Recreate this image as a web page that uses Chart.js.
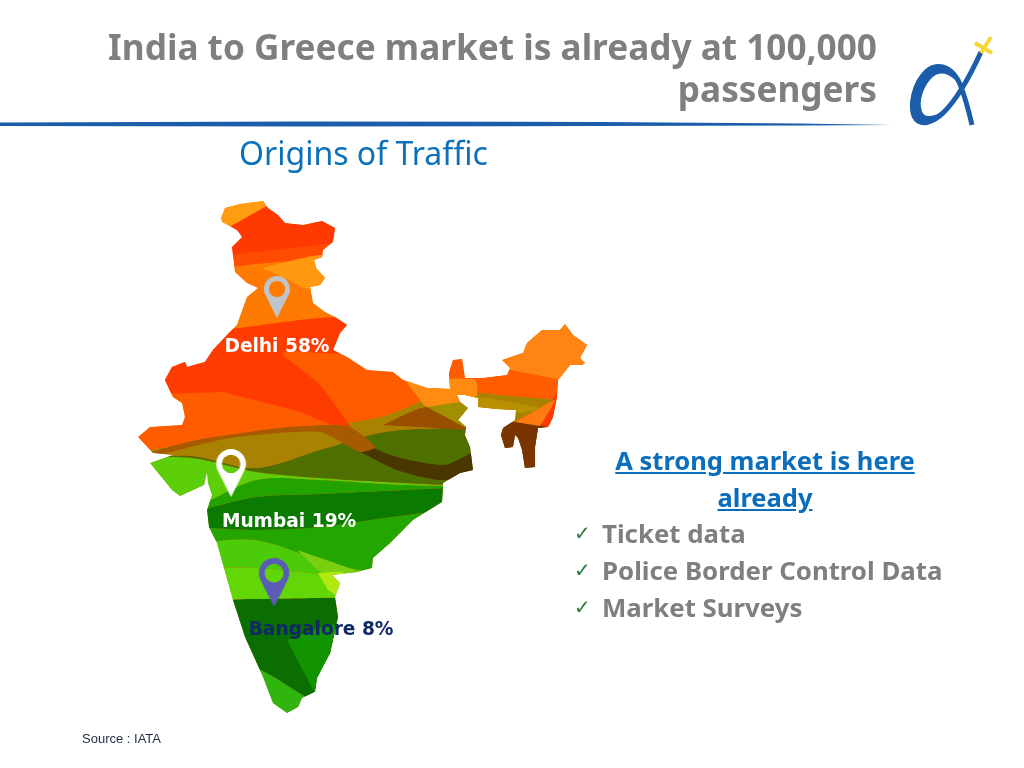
<!DOCTYPE html>
<html>
<head>
<meta charset="utf-8">
<title>Origins of Traffic</title>
<script src="https://cdn.jsdelivr.net/npm/chart.js@4/dist/chart.umd.min.js"></script>
<style>
    html, body { margin: 0; padding: 0; background: #fff; }
    #slide { position: relative; width: 1024px; height: 768px; overflow: hidden; }
    #mapChart { position: absolute; left: 0; top: 0; filter: blur(0.4px); }
    .txt { position: absolute; white-space: nowrap; }
    #title { right: 147px; top: 25px; text-align: right; font: bold 35.2px/42px "Noto Sans", sans-serif; color: #7f7f7f; }
    #subtitle { left: 239px; top: 132px; font: 32px/42px "Noto Sans", sans-serif; color: #0b72b9; }
    #headline { left: 600px; top: 442px; width: 330px; text-align: center; font: bold 25.5px/37px "Noto Sans", sans-serif; color: #0a6ebd; text-decoration: underline; white-space: normal; }
    .item { left: 602px; font: bold 25.8px/37px "Noto Sans", sans-serif; color: #7f7f7f; }
    .tick { left: 574px; font: 20px/37px "DejaVu Sans", sans-serif; color: #2e7d3a; }
    #source { left: 82px; top: 731px; font: 13px/16px "Liberation Sans", sans-serif; color: #1f2a44; }
</style>
</head>
<body>
<div id="slide">
    <canvas id="mapChart" width="1024" height="768"></canvas>

    <svg class="txt" style="left:0;top:0" width="1024" height="140">
        <!-- header rule -->
        <path d="M0 122.5 L300 121.5 L600 122 L800 123.5 L893 125 L800 125.5 L600 126 L300 126.5 L0 126 Z" fill="#1c5dab"/>
        <!-- logo -->
        <path d="M972 125 C968 108 964 92 958 80 C950 66 936 62 926 72 C914 84 910 104 914 116 C920 128 934 122 944 112 C958 98 970 76 981 52" fill="none" stroke="#1c5dab" stroke-width="5"/>
        <path d="M958 80 C950 66 936 62 926 72 C914 84 910 104 914 116 C920 128 934 122 944 112 C936 118 924 122 920 112 C916 100 922 84 932 75 C940 68 950 72 958 80 Z" fill="#1c5dab" stroke="#1c5dab" stroke-width="4"/>
        <path d="M981 53 L991 37 M975 43 L992 53" fill="none" stroke="#f7d43a" stroke-width="4"/>
    </svg>

    <div class="txt" id="title">India to Greece market is already at 100,000<br>passengers</div>
    <div class="txt" id="subtitle">Origins of Traffic</div>
    <div class="txt" id="headline">A strong market is here already</div>
    <div class="txt tick" style="top:515px">✓</div>
    <div class="txt item" style="top:515px">Ticket data</div>
    <div class="txt tick" style="top:552px">✓</div>
    <div class="txt item" style="top:552px">Police Border Control Data</div>
    <div class="txt tick" style="top:589px">✓</div>
    <div class="txt item" style="top:589px">Market Surveys</div>
    <div class="txt" id="source">Source : IATA</div>
</div>

<script>
// Traffic shares
const cityNames = ['Delhi', 'Mumbai', 'Bangalore'];
const cityShares = [58, 19, 8];
const cityLon = [77.31, 74.44, 77.13];
const cityLat = [30.33, 20.39, 14.28];

// India outline, degrees
const outlineLon = [73.81,74.06,75.00,76.44,76.75,77.38,77.81,78.94,80.13,80.94,80.81,80.19,80.13,79.63,79.75,80.31,80.00,79.38,79.56,80.31,80.94,81.69,81.25,80.81,81.69,82.94,84.56,85.19,86.69,88.13,88.06,88.31,88.88,89.06,90.19,91.69,91.88,91.38,92.69,92.94,93.88,95.00,95.31,95.81,96.69,96.25,96.56,96.38,95.63,94.88,94.81,94.56,94.25,93.63,93.44,93.44,92.81,92.63,92.38,92.19,92.06,91.56,91.31,91.44,92.19,92.25,91.06,89.88,89.88,89.06,88.56,88.75,89.25,88.63,89.13,89.06,89.38,89.56,88.75,87.69,87.69,87.63,85.81,84.38,83.31,83.25,82.31,80.75,81.25,80.94,81.13,80.63,79.81,79.69,78.88,78.63,77.94,77.06,76.44,75.31,74.56,73.56,73.06,72.94,73.25,73.00,72.94,72.75,71.25,70.75,69.38,70.81,69.56,68.63,69.38,71.38,71.56,71.38,70.81,70.31,70.75,71.56,71.69,72.81,73.31,74.19,74.81,75.44,76.13,75.44,74.69,74.50,75.13,74.81,73.88];
const outlineLat = [35.89,36.44,36.67,36.83,36.44,36.06,35.61,35.50,35.72,35.33,34.56,34.11,33.72,33.56,33.11,32.56,32.17,32.06,31.17,30.67,30.39,29.94,29.50,28.56,28.17,27.44,27.33,26.89,26.44,26.39,27.28,28.00,28.06,27.00,27.00,27.17,27.56,28.00,28.39,28.94,29.67,29.67,30.00,29.39,28.83,28.11,27.83,27.72,27.72,26.89,25.94,24.83,24.28,24.22,23.17,22.06,22.00,23.00,23.67,23.83,23.17,23.11,23.83,24.22,24.67,25.22,25.28,25.39,25.89,26.06,26.06,25.67,25.33,24.67,24.28,23.83,23.17,21.89,21.72,21.17,20.89,20.11,19.11,17.83,17.00,16.44,16.22,16.06,15.61,14.83,13.72,11.72,10.33,9.56,9.22,8.72,8.39,8.94,10.39,12.61,14.67,17.83,18.72,19.67,20.50,21.17,21.78,21.06,20.44,20.78,22.28,22.72,22.83,23.72,24.28,24.39,24.83,25.61,25.94,26.89,27.61,27.89,27.61,27.89,28.56,29.39,29.94,31.50,32.00,32.28,32.89,34.28,34.83,35.22,35.67];

// Colour bands: latitude of each edge at the shared longitudes
const bandLon = [68, 72, 76, 80, 84, 88, 92, 97];
const bandEdges = [
    [40.00, 40.00, 40.00, 40.00, 40.00, 40.00, 40.00, 40.00],
    [31.33, 34.11, 36.22, 38.00, 38.00, 38.00, 38.00, 38.00],
    [33.00, 33.56, 34.00, 34.39, 34.94, 35.78, 36.33, 36.89],
    [32.17, 32.89, 33.33, 33.67, 34.11, 34.67, 35.22, 35.78],
    [28.83, 29.39, 29.78, 30.11, 29.94, 28.56, 27.44, 26.78],
    [22.72, 23.44, 24.00, 24.33, 24.89, 26.22, 26.00, 25.67],
    [22.56, 22.67, 22.00, 23.00, 24.00, 24.22, 24.22, 24.22],
    [22.56, 22.56, 21.78, 21.44, 21.22, 21.06, 21.06, 21.06],
    [19.11, 19.78, 21.33, 21.33, 21.11, 21.00, 21.00, 21.00],
    [18.83, 19.56, 20.39, 20.56, 20.72, 20.89, 20.89, 20.89],
    [18.44, 18.67, 18.56, 18.72, 19.22, 19.67, 19.94, 19.94],
    [17.72, 17.83, 18.00, 16.89, 16.06, 15.78, 15.78, 15.78],
    [16.33, 16.44, 16.44, 16.11, 15.89, 15.67, 15.67, 15.67],
    [14.67, 14.67, 14.72, 14.78, 14.78, 14.78, 14.78, 14.78],
    [12.44, 11.61, 10.89, 8.83, 7.44, 7.44, 7.44, 7.44],
    [6.89, 6.89, 6.89, 6.89, 6.89, 6.89, 6.89, 6.89]
];
const bandColors = ['#ff9c12', '#ff3a00', '#ff4c00', '#ff7a00', '#ff5c00', '#a88200', '#4e7000', '#5ccf0a', '#22a300', '#0b7a00', '#23a600', '#4ccb08', '#62d606', '#0a6e00', '#2fb50e'];

// Overlapping ribbons on top of the bands
const ribbonLon = [
    [68.13, 68.13, 75.00, 81.56, 82.00, 77.69, 80.00, 82.00, 78.75, 73.94],
    [85.31, 89.69, 89.69, 86.69, 85.88],
    [83.94, 86.69, 89.38],
    [86.69, 89.69, 89.69, 89.13],
    [81.56, 84.81, 87.81, 90.00, 90.00, 87.50, 84.81, 81.69],
    [69.38, 72.31, 77.50, 81.69, 83.44, 82.50, 80.00, 74.38, 70.19],
    [76.38, 80.00, 80.94, 80.94, 79.06, 77.81],
    [90.94, 95.31, 95.31, 90.63, 90.63],
    [89.69, 93.75, 92.81, 89.69],
    [93.75, 94.50, 95.31, 95.31],
    [92.19, 93.75, 94.69, 93.75],
    [78.56, 81.44, 82.38, 80.00],
    [79.88, 81.56, 81.56, 80.50],
    [77.94, 80.94, 80.94, 79.63],
    [90.50, 97.50, 97.50, 91.88]
];
const ribbonLat = [
    [26.06, 29.11, 29.78, 30.33, 28.44, 28.39, 26.61, 24.00, 25.11, 26.22],
    [26.89, 26.89, 25.67, 25.39, 26.22],
    [24.39, 25.39, 24.11],
    [25.39, 25.67, 24.22, 24.22],
    [23.78, 22.61, 22.17, 23.00, 21.78, 21.33, 21.89, 23.28],
    [22.89, 23.56, 24.22, 24.33, 23.17, 22.89, 24.00, 23.67, 22.78],
    [33.11, 33.83, 33.44, 31.78, 32.00, 32.56],
    [24.44, 24.67, 21.33, 21.89, 23.56],
    [26.00, 25.33, 25.11, 25.11],
    [24.39, 25.78, 26.61, 24.00],
    [24.56, 25.33, 25.78, 24.33],
    [17.44, 16.56, 16.17, 16.22],
    [16.17, 16.17, 14.67, 15.22],
    [12.44, 13.28, 11.33, 9.56],
    [30.50, 30.50, 26.78, 27.44]
];
const ribbonColors = ['#ff3c00', '#ff8c10', '#9a4e00', '#a09000', '#4a3600', '#a85a00', '#ff9a10', '#7a3400', '#b89000', '#ff3a00', '#ff7a10', '#7ccf10', '#b0e810', '#129400', '#ff8414'];

// Pin and label styling
const pinColors = ['#bfc4c9', '#ffffff', '#5b5bb8'];
const pinHeights = [42, 48, 49];
const labelColors = ['#ffffff', '#ffffff', '#0f2a66'];
const labelShiftX = [0, 58, 47];
const labelShiftY = [34, 30, 28];

const toPoints = (lons, lats) => lons.map((lon, i) => ({ x: lon, y: lats[i] }));

// Teardrop with a hole; tip sits at the canvas centre so the point is the tip
function makePin(color, height) {
    const canvas = document.createElement('canvas');
    canvas.width = height * 1.4;
    canvas.height = height * 2;
    const c = canvas.getContext('2d');
    const cx = canvas.width / 2;
    const r = height * 0.31;
    const headY = height * 0.31;
    c.fillStyle = color;
    c.beginPath();
    c.arc(cx, headY, r, Math.PI * 0.86, Math.PI * 0.14);
    c.lineTo(cx, height);
    c.closePath();
    c.fill();
    c.globalCompositeOperation = 'destination-out';
    c.beginPath();
    c.arc(cx, headY, r * 0.62, 0, Math.PI * 2);
    c.fill();
    return canvas;
}

// Lets the colours show only inside the outline, the pins stay on top
const mapClip = {
    id: 'mapClip',
    beforeDatasetsDraw(chart) {
        const { x, y } = chart.scales;
        const ctx = chart.ctx;
        ctx.save();
        ctx.beginPath();
        outlineLon.forEach((lon, i) => {
            ctx.lineTo(x.getPixelForValue(lon), y.getPixelForValue(outlineLat[i]));
        });
        ctx.closePath();
        ctx.clip();
    },
    beforeDatasetDraw(chart, args) {
        if (args.index === 0) chart.ctx.restore();
    }
};

const cityLabels = {
    id: 'cityLabels',
    afterDatasetsDraw(chart) {
        const { x, y } = chart.scales;
        const ctx = chart.ctx;
        ctx.save();
        ctx.font = 'bold 18.6px "DejaVu Sans", sans-serif';
        ctx.textAlign = 'center';
        cityNames.forEach((name, i) => {
            ctx.fillStyle = labelColors[i];
            ctx.fillText(name + ' ' + cityShares[i] + '%',
                x.getPixelForValue(cityLon[i]) + labelShiftX[i],
                y.getPixelForValue(cityLat[i]) + labelShiftY[i]);
        });
        ctx.restore();
    }
};

const datasets = [{
    label: 'Cities',
    data: toPoints(cityLon, cityLat),
    showLine: false,
    pointStyle: pinColors.map((color, i) => makePin(color, pinHeights[i])),
    pointRadius: 10
}];

ribbonColors.slice().reverse().forEach((color, k) => {
    const i = ribbonColors.length - 1 - k;
    datasets.push({
        data: toPoints(ribbonLon[i], ribbonLat[i]),
        showLine: true,
        fill: 'shape',
        backgroundColor: color,
        borderWidth: 0,
        pointRadius: 0,
        tension: 0.2
    });
});

bandEdges.forEach((edge, i) => {
    datasets.push({
        data: toPoints(bandLon, edge),
        showLine: true,
        fill: i < bandColors.length ? '+1' : false,
        backgroundColor: bandColors[i] || 'transparent',
        borderWidth: 0,
        pointRadius: 0,
        tension: 0.3
    });
});

// Base colour under everything so band seams do not show white
datasets.push({
    data: toPoints(outlineLon, outlineLat),
    showLine: true,
    fill: 'shape',
    backgroundColor: '#ff5c00',
    borderWidth: 0,
    pointRadius: 0
});

new Chart(document.getElementById('mapChart'), {
    type: 'scatter',
    data: { datasets },
    options: {
        responsive: false,
        animation: false,
        layout: { padding: 0, autoPadding: false },
        plugins: { legend: { display: false }, tooltip: { enabled: false }, title: { display: false } },
        scales: {
            x: { type: 'linear', display: false, min: 60, max: 124 },
            y: { type: 'linear', display: false, min: 5.33, max: 48 }
        }
    },
    plugins: [mapClip, cityLabels]
});
</script>
</body>
</html>
